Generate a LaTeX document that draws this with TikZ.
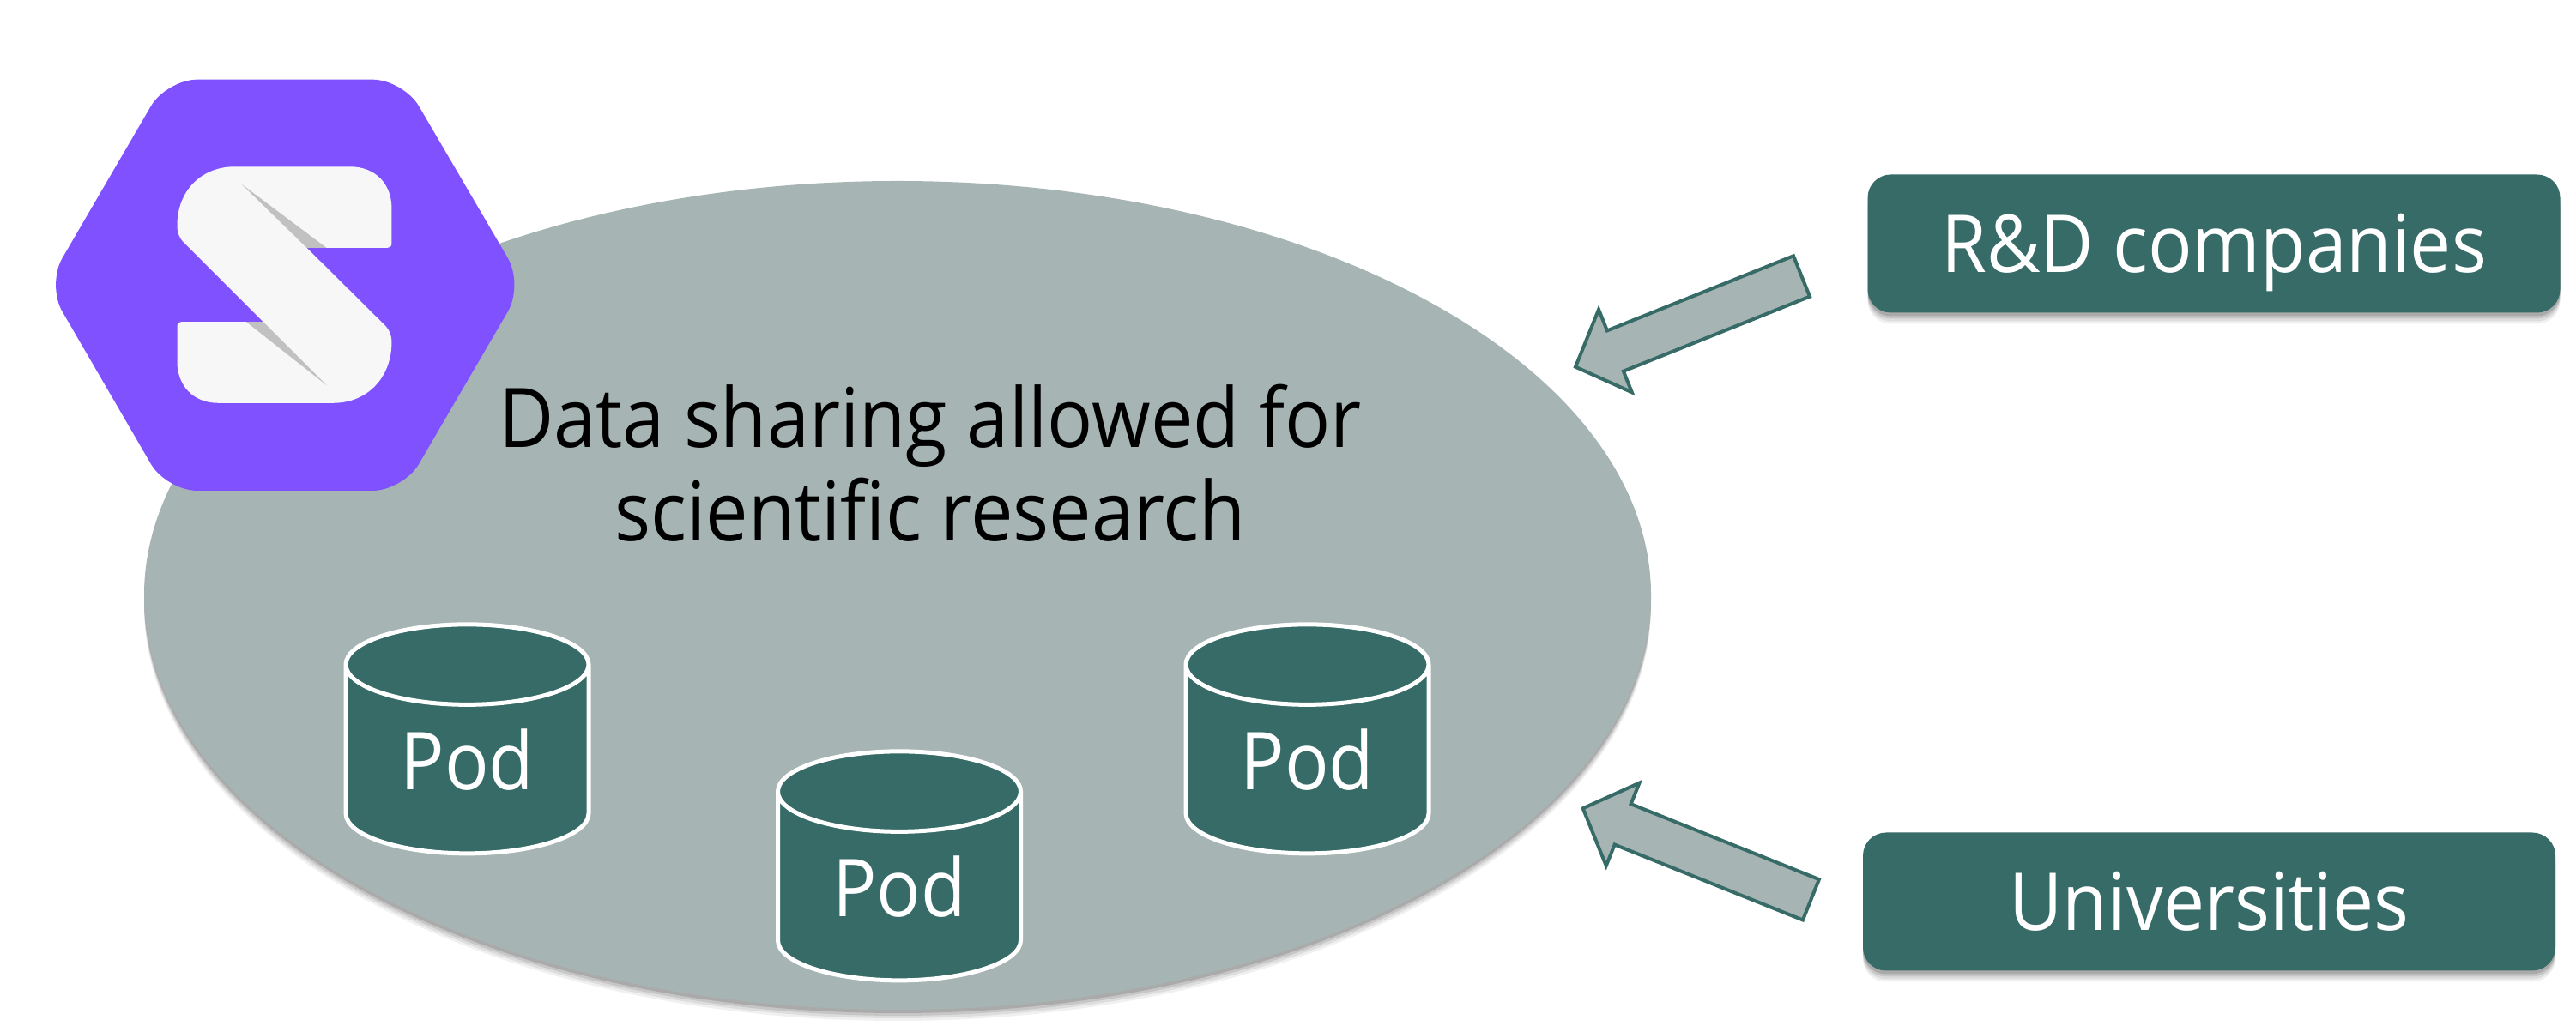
\documentclass[tikz,border=0pt]{standalone}
\usepackage{fontspec}
\setmainfont[FakeStretch=0.92]{Open Sans}
\usetikzlibrary{calc, shadows, shapes.geometric}
\definecolor{cPod}{HTML}{366B67}
\definecolor{cBanda}{HTML}{A6B5B3}
\definecolor{cLogo}{HTML}{8052FF}
\definecolor{cLetra}{HTML}{F7F7F7}
\definecolor{cSombra}{HTML}{C1C1C1}
\tikzset{
    x=1cm, y=1cm, font=\fontsize{26.5}{31.3}\selectfont,
    softshadow/.style={
        drop shadow={shadow xshift=0cm, shadow yshift=-0.13cm, opacity=0.06, fill=black},
        drop shadow={shadow xshift=0cm, shadow yshift=-0.10cm, opacity=0.08, fill=black},
        drop shadow={shadow xshift=0cm, shadow yshift=-0.07cm, opacity=0.10, fill=black},
        drop shadow={shadow xshift=0cm, shadow yshift=-0.04cm, opacity=0.14, fill=black}},
    banda/.style={ellipse, fill=cBanda, inner sep=0pt, softshadow,
                  minimum width=17.56cm, minimum height=9.66cm},
    actor/.style={rectangle, fill=cPod, text=white, rounded corners=0.27cm, softshadow,
                  minimum width=8.07cm, minimum height=1.61cm,
                  text height=0.67cm, text depth=0pt, inner sep=0pt},
    pod/.style={cylinder, shape border rotate=90, shape aspect=0.6,
                draw=white, line width=0.05cm, text=white,
                cylinder uses custom fill, cylinder body fill=cPod, cylinder end fill=cPod,
                minimum width=2.83cm, minimum height=2.67cm, inner sep=0pt},
    flecha/.style={draw=cPod, fill=cBanda, line width=0.04cm,
        to path={
            ($(\tikztostart)!0.255cm!90:(\tikztotarget)$)
            -- ($($(\tikztotarget)!0.5cm!(\tikztostart)$)!0.255cm!90:(\tikztotarget)$)
            -- ($($(\tikztotarget)!0.5cm!(\tikztostart)$)!0.52cm!90:(\tikztotarget)$)
            -- (\tikztotarget)
            -- ($($(\tikztotarget)!0.5cm!(\tikztostart)$)!0.52cm!-90:(\tikztotarget)$)
            -- ($($(\tikztotarget)!0.5cm!(\tikztostart)$)!0.255cm!-90:(\tikztotarget)$)
            -- ($(\tikztostart)!0.255cm!-90:(\tikztotarget)$)
            -- cycle}},
}
\begin{document}
\begin{tikzpicture}
    \useasboundingbox (0,0) rectangle (30.02,11.96);

    \node[banda] (datos) at (10.46,5.02) {};

    % logo
    \fill[cLogo, rounded corners=0.36cm] (1.94,11.033) -- (4.70,11.033) -- (6.10,8.64)
        -- (4.70,6.24) -- (1.94,6.24) -- (0.545,8.64) -- cycle;
    \fill[cLetra] (2.734,10.017) -- (4.074,10.017)
        .. controls (4.39,10.017) and (4.564,9.80) .. (4.564,9.535) -- (4.564,9.122)
        .. controls (4.564,9.09) and (4.545,9.07) .. (4.514,9.07) -- (3.576,9.07)
        -- (4.495,8.158) .. controls (4.54,8.11) and (4.564,8.05) .. (4.564,7.968)
        .. controls (4.564,7.56) and (4.28,7.262) .. (3.883,7.262) -- (2.543,7.262)
        .. controls (2.24,7.262) and (2.065,7.48) .. (2.065,7.744) -- (2.065,8.158)
        .. controls (2.065,8.19) and (2.085,8.209) .. (2.114,8.209) -- (3.067,8.209)
        -- (2.153,9.122) .. controls (2.09,9.18) and (2.065,9.25) .. (2.065,9.328)
        .. controls (2.065,9.75) and (2.36,10.017) .. (2.734,10.017) -- cycle;
    \fill[cSombra] (2.819,9.81) -- (3.806,9.07) -- (3.576,9.07) -- cycle;
    \fill[cSombra] (2.868,8.209) -- (3.067,8.209) -- (3.806,7.469) -- cycle;

    \node[align=center, text=black, font=\fontsize{27.3}{31}\selectfont] (lema) at (10.84,6.56)
        {Data sharing allowed for\\scientific research};

    \node[pod] (podA) at (5.445,3.10) {Pod};
    \node[pod] (podB) at (10.48,1.62) {Pod};
    \node[pod] (podC) at (15.235,3.10) {Pod};

    \node[actor] (empresas) at (25.80,9.12) {R\&D companies};
    \node[actor] (univ) at (25.745,1.45) {Universities};

    \coordinate (empresasCola) at (20.995,8.74);
    \coordinate (empresasPunta) at (18.36,7.683);
    \coordinate (univCola) at (21.104,1.472);
    \coordinate (univPunta) at (18.447,2.537);
    \draw[flecha] (empresasCola) to (empresasPunta);
    \draw[flecha] (univCola) to (univPunta);
\end{tikzpicture}
\end{document}
